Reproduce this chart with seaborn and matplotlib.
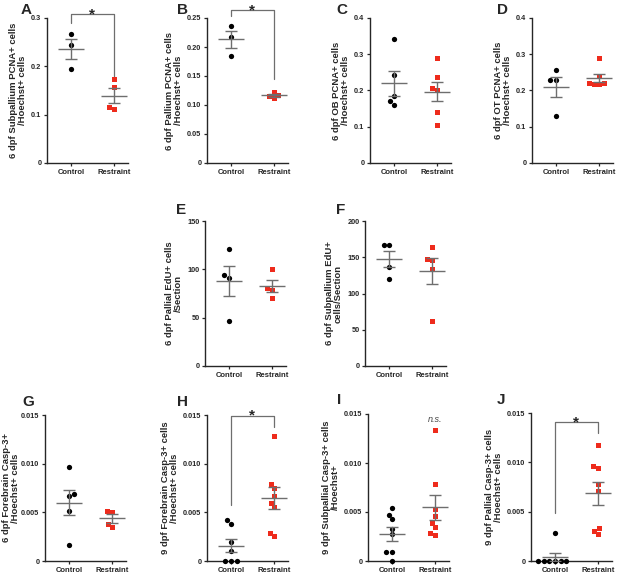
import numpy as np
import pandas as pd
import matplotlib
matplotlib.use("Agg")
import matplotlib.pyplot as plt
import seaborn as sns

sns.set_style("ticks")
plt.rcParams['font.family'] = ['Liberation Sans', 'DejaVu Sans']
plt.rcParams['font.weight'] = 'bold'

groups = ["Control", "Restraint"]

# values
a_ctrl = [0.267, 0.245, 0.195]
a_rest = [0.173, 0.158, 0.116, 0.111]
b_ctrl = [0.237, 0.217, 0.185]
b_rest = [0.123, 0.117, 0.115, 0.112]
c_ctrl = [0.342, 0.244, 0.184, 0.170, 0.160]
c_rest = [0.290, 0.236, 0.207, 0.202, 0.142, 0.106]
d_ctrl = [0.256, 0.228, 0.228, 0.131]
d_rest = [0.290, 0.239, 0.222, 0.220, 0.218, 0.217]
e_ctrl = [121.4, 93.8, 91.0, 46.6]
e_rest = [100.0, 81.0, 78.3, 70.3]
f_ctrl = [167.4, 166.4, 136.6, 120.0]
f_rest = [164.0, 148.0, 145.7, 134.0, 62.0]
g_ctrl = [0.00962, 0.00685, 0.00668, 0.00514, 0.00164]
g_rest = [0.00517, 0.00507, 0.00377, 0.00346]
h_ctrl = [0.00421, 0.00380, 0.00192, 0.00103, 0.0, 0.0, 0.0]
h_rest = [0.01288, 0.00788, 0.00747, 0.00668, 0.00599, 0.00558, 0.00291, 0.00257]
i_ctrl = [0.00539, 0.00470, 0.00426, 0.00327, 0.00273, 0.00095, 0.00095, 0.0]
i_rest = [0.01333, 0.00784, 0.00528, 0.00464, 0.00385, 0.00344, 0.00290, 0.00262]
j_ctrl = [0.00288, 0.0, 0.0, 0.0, 0.0, 0.0, 0.0]
j_rest = [0.01172, 0.00958, 0.00941, 0.00779, 0.00711, 0.00332, 0.00308, 0.00274]

ylabels = {
    "A": "6 dpf Subpallium PCNA+ cells\n/Hoechst+ cells",
    "B": "6 dpf Pallium PCNA+ cells\n/Hoechst+ cells",
    "C": "6 dpf OB PCNA+ cells\n/Hoechst+ cells",
    "D": "6 dpf OT PCNA+ cells\n/Hoechst+ cells",
    "E": "6 dpf Pallial EdU+ cells\n/Section",
    "F": "6 dpf Subpallium EdU+\ncells/Section",
    "G": "6 dpf Forebrain Casp-3+\n/Hoechst+ cells",
    "H": "9 dpf Forebrain Casp-3+ cells\n/Hoechst+ cells",
    "I": "9 dpf Subpallial Casp-3+ cells\n/Hoechst+",
    "J": "9 dpf Pallial Casp-3+ cells\n/Hoechst+ cells",
}
yticks = {
    "A": [0, 0.1, 0.2, 0.3],
    "B": [0, 0.05, 0.10, 0.15, 0.20, 0.25],
    "C": [0, 0.1, 0.2, 0.3, 0.4],
    "D": [0, 0.1, 0.2, 0.3, 0.4],
    "E": [0, 50, 100, 150],
    "F": [0, 50, 100, 150, 200],
    "G": [0, 0.005, 0.010, 0.015],
    "H": [0, 0.005, 0.010, 0.015],
    "I": [0, 0.005, 0.010, 0.015],
    "J": [0, 0.005, 0.010, 0.015],
}
yticklabels = {
    "A": ["0", "0.1", "0.2", "0.3"],
    "B": ["0", "0.05", "0.10", "0.15", "0.20", "0.25"],
    "C": ["0", "0.1", "0.2", "0.3", "0.4"],
    "D": ["0", "0.1", "0.2", "0.3", "0.4"],
    "E": ["0", "50", "100", "150"],
    "F": ["0", "50", "100", "150", "200"],
    "G": ["0", "0.005", "0.010", "0.015"],
    "H": ["0", "0.005", "0.010", "0.015"],
    "I": ["0", "0.005", "0.010", "0.015"],
    "J": ["0", "0.005", "0.010", "0.015"],
}
data = {
    "A": (a_ctrl, a_rest), "B": (b_ctrl, b_rest), "C": (c_ctrl, c_rest),
    "D": (d_ctrl, d_rest), "E": (e_ctrl, e_rest), "F": (f_ctrl, f_rest),
    "G": (g_ctrl, g_rest), "H": (h_ctrl, h_rest), "I": (i_ctrl, i_rest),
    "J": (j_ctrl, j_rest),
}
# significance brackets: (left leg bottom, top, right leg bottom)
brackets = {
    "A": (0.290, 0.308, 0.175),
    "B": (0.253, 0.263, 0.144),
    "H": (0.00575, 0.01493, 0.0138),
    "J": (0.00484, 0.01405, 0.01297),
}

W, H = 617, 573
# axes boxes in pixels: left, top, width, height
boxes = {
    "A": (47, 18, 81, 145), "B": (207, 18, 81, 145),
    "C": (370, 18, 81, 145), "D": (532, 18, 81, 145),
    "E": (205, 221, 81, 145), "F": (365, 221, 81, 145),
    "G": (45, 415, 81, 146), "H": (207, 415, 81, 146),
    "I": (368, 414, 81, 147), "J": (531, 413, 81, 148),
}
letters = {
    "A": (21, 3), "B": (177, 3), "C": (336, 3), "D": (497, 3),
    "E": (176, 203), "F": (336, 203),
    "G": (22, 395), "H": (177, 395), "I": (337, 393), "J": (497, 393),
}

red = "#ee2b1c"
grey = "#6e6e6e"

fig = plt.figure(figsize=(W / 100, H / 100), dpi=100)

for key, (ctrl, rest) in data.items():
    l, t, w, h = boxes[key]
    ax = fig.add_axes([l / W, 1 - (t + h) / H, w / W, h / H])
    df_c = pd.DataFrame({"group": "Control", "value": ctrl})
    df_r = pd.DataFrame({"group": "Restraint", "value": rest})
    sns.swarmplot(data=df_c, x="group", y="value", order=groups, ax=ax,
                  color="black", marker="o", size=3.8, linewidth=0,
                  clip_on=False, zorder=3)
    sns.swarmplot(data=df_r, x="group", y="value", order=groups, ax=ax,
                  color=red, marker="s", size=3.6, linewidth=0,
                  clip_on=False, zorder=3)
    for i, vals in enumerate([ctrl, rest]):
        v = np.array(vals)
        m = v.mean()
        se = v.std(ddof=1) / np.sqrt(len(v))
        ax.hlines(m, i - 0.3, i + 0.3, color=grey, lw=1.0, zorder=4)
        ax.errorbar(i, m, yerr=se, color=grey, lw=1.0, capsize=4,
                    capthick=1.0, fmt="none", zorder=4)
    top = yticks[key][-1]
    ax.set_ylim(0, top)
    ax.set_xlim(-0.56, 1.33)
    ax.set_yticks(yticks[key])
    ax.set_yticklabels(yticklabels[key], fontsize=5.3, fontweight="bold")
    ax.set_xticks([0, 1])
    ax.set_xticklabels(groups, fontsize=5.5, fontweight="bold")
    ax.set_xlabel("")
    ax.set_ylabel(ylabels[key], fontsize=6.8, fontweight="bold",
                  labelpad=0.5 if key == "G" else 3, linespacing=1.05)
    ax.tick_params(length=2.5, width=0.9, pad=1.5)
    sns.despine(ax=ax)
    for s in ["left", "bottom"]:
        ax.spines[s].set_linewidth(1.0)
    if key in brackets:
        lo, hi, ro = brackets[key]
        ax.plot([0, 0, 1, 1], [lo, hi, hi, ro], color=grey, lw=0.9,
                clip_on=False)
        ax.text(0.5, hi, "*", ha="center", va="center", fontsize=11,
                fontweight="bold", clip_on=False)
    if key == "I":
        ax.text(1, top * 0.965, "n.s.", ha="center", va="center",
                fontsize=6.5, fontstyle="italic", fontweight="normal",
                color="#444444")
    lx, ly = letters[key]
    fig.text(lx / W, 1 - ly / H, key, fontsize=11, fontweight="bold",
             va="top", ha="left")

fig.savefig("out.png", dpi=100)
